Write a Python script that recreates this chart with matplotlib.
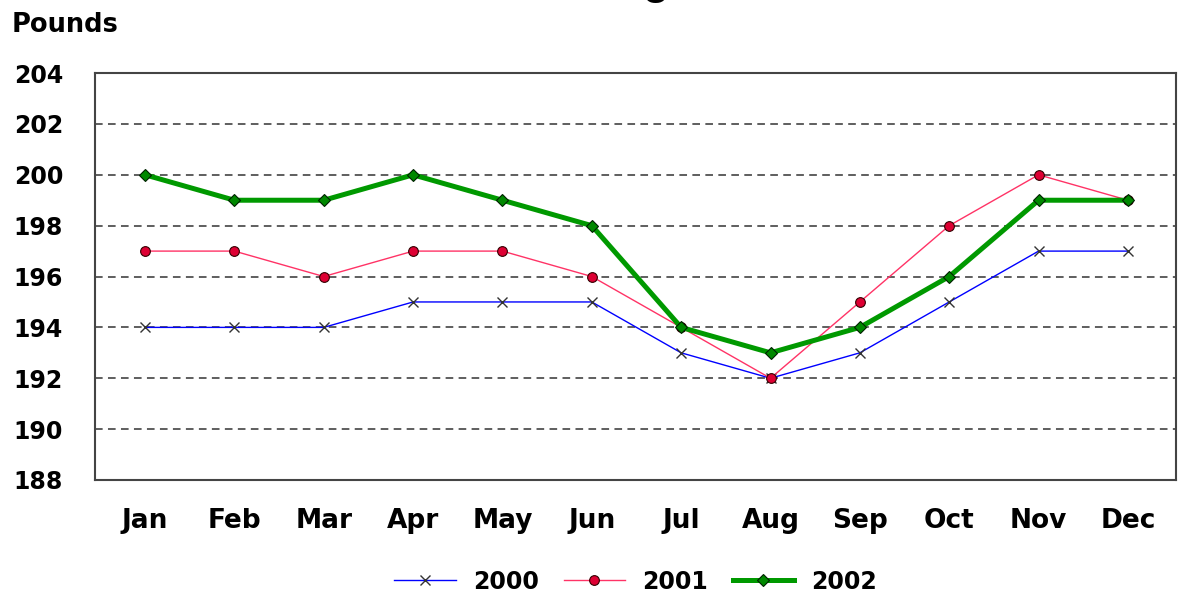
import matplotlib
matplotlib.use("Agg")
import matplotlib.pyplot as plt

months = ["Jan", "Feb", "Mar", "Apr", "May", "Jun",
          "Jul", "Aug", "Sep", "Oct", "Nov", "Dec"]
w2000 = [194, 194, 194, 195, 195, 195, 193, 192, 193, 195, 197, 197]
w2001 = [197, 197, 196, 197, 197, 196, 194, 192, 195, 198, 200, 199]
w2002 = [200, 199, 199, 200, 199, 198, 194, 193, 194, 196, 199, 199]
yticks = [188, 190, 192, 194, 196, 198, 200, 202, 204]

plt.rcParams['font.family'] = ['DejaVu Sans']

fig = plt.figure(figsize=(11.79, 5.99), dpi=100)
ax = fig.add_axes([0.0806, 0.1987, 0.917, 0.6793])

x = list(range(len(months)))

# dashed grid lines, not on the border values
for y in yticks[1:-1]:
    ax.axhline(y, color="#333333", lw=1.1, ls=(0, (5, 3.5)), zorder=1)

ax.plot(x, w2000, color="#0000ff", lw=1, marker="x", markersize=7,
        markeredgecolor="#333333", markeredgewidth=1, label="2000", zorder=3)
ax.plot(x, w2001, color="#ff3366", lw=1, marker="o", markersize=7,
        markerfacecolor="#dd0033", markeredgecolor="#330000",
        markeredgewidth=0.8, label="2001", zorder=4)
ax.plot(x, w2002, color="#009900", lw=3.6, marker="D", markersize=6,
        markerfacecolor="#008800", markeredgecolor="#002200",
        markeredgewidth=0.8, label="2002", zorder=5)

ax.set_xlim(-0.56, 11.54)
ax.set_ylim(188, 204)
ax.set_yticks(yticks)
ax.set_xticks(x)
ax.set_xticklabels(months)
ax.tick_params(length=0)
ax.tick_params(axis="y", labelsize=17, pad=23)
ax.tick_params(axis="x", labelsize=19, pad=20)
for lab in ax.get_xticklabels() + ax.get_yticklabels():
    lab.set_fontweight("bold")
for s in ax.spines.values():
    s.set_color("#444444")
    s.set_linewidth(1.5)

fig.text(0.01, 0.947, "Pounds", fontsize=18.5, fontweight="bold")
# title sits mostly above the top edge, as in the original
fig.text(0.5386, 1.012, "Weight", fontsize=36, ha="center", va="baseline",
         family="Liberation Sans")

leg = ax.legend(loc="center", bbox_to_anchor=(0.5, -0.25), ncol=3, frameon=False,
                prop={"size": 17, "weight": "bold"}, handlelength=2.6,
                columnspacing=1.06, handletextpad=0.72)

fig.savefig("out.png", dpi=100)
